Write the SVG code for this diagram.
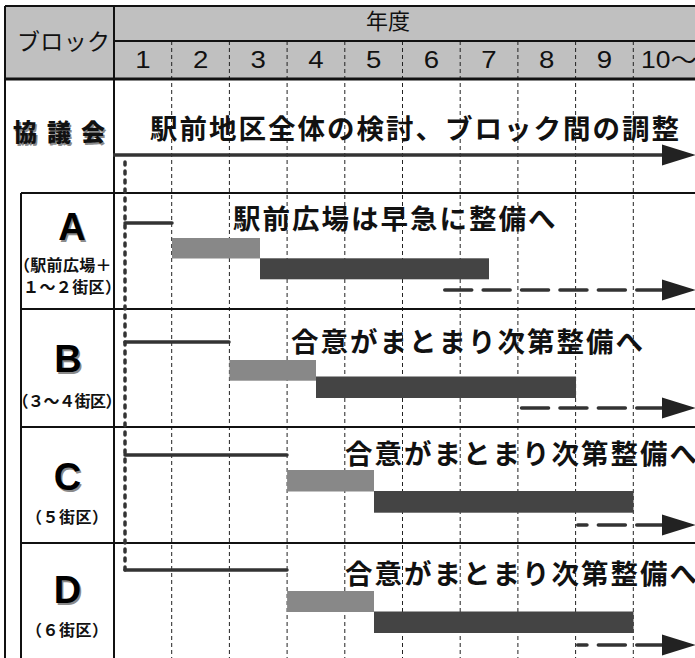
<svg xmlns="http://www.w3.org/2000/svg" width="695" height="658" viewBox="0 0 695 658">
<style>
.jp{font-family:"Noto Sans CJK JP","Noto Sans",sans-serif;}
.hdr{font-family:"Noto Sans CJK JP",sans-serif;font-size:23px;fill:#111;}
.num{font-family:"Liberation Sans","Noto Sans CJK JP",sans-serif;font-size:23px;fill:#111;}
.big{font-family:"Noto Sans CJK JP",sans-serif;font-weight:bold;font-size:27.5px;letter-spacing:2px;fill:#111;}
.sub{font-family:"Noto Sans CJK JP",sans-serif;font-weight:bold;font-size:16px;fill:#111;}
.let{font-family:"Liberation Sans",sans-serif;font-weight:bold;font-size:38px;text-anchor:middle;}
.shadow{fill:#8a8a8a;}
.frame{stroke:#111;stroke-width:2;fill:none;}
.grid{stroke:#222;stroke-width:1;stroke-dasharray:4 3;fill:none;}
.solid{stroke:#333;stroke-width:3.5;stroke-linecap:round;fill:none;}
.dash{stroke:#333;stroke-width:3.5;stroke-linecap:round;stroke-dasharray:27 11.4;fill:none;}
.head{fill:#222;}
.lite{fill:#888;}
.dark{fill:#444;}
</style>

<g id="header">
  <rect x="5" y="6" width="690" height="73" fill="#c0c0c0"/>
  <text class="hdr" x="17" y="50" textLength="93">ブロック</text>
  <text class="jp" x="366" y="29" font-size="22" fill="#111">年度</text>
  <g class="num" text-anchor="middle">
    <text transform="translate(143,68) scale(1.2,1)">1</text>
    <text transform="translate(200.6,68) scale(1.2,1)">2</text>
    <text transform="translate(258.2,68) scale(1.2,1)">3</text>
    <text transform="translate(316,68) scale(1.2,1)">4</text>
    <text transform="translate(373.6,68) scale(1.2,1)">5</text>
    <text transform="translate(431.3,68) scale(1.2,1)">6</text>
    <text transform="translate(489,68) scale(1.2,1)">7</text>
    <text transform="translate(546.7,68) scale(1.2,1)">8</text>
    <text transform="translate(604.5,68) scale(1.2,1)">9</text>
  </g>
  <text class="num" transform="translate(641,68) scale(1.15,1)">10～</text>
</g>

<g id="grid">
  <g class="grid">
    <path d="M171.7 41V658M229.4 41V658M287.1 41V658M344.8 41V658M402.5 41V658M460.2 41V658M517.9 41V658M575.6 41V658M633.3 41V658"/>
  </g>
</g>

<g id="frame" class="frame">
  <path d="M5 6H695"/>
  <path d="M5 6V658"/>
  <path d="M114 6V658"/>
  <path d="M114 41H695"/>
  <path d="M5 79H695" stroke-width="3"/>
  <path d="M21 193H695M21 309H695M21 427H695M21 543H695"/>
  <path d="M21 193V658"/>
</g>

<g id="kyogikai">
  <text class="jp shadow" x="14.5" y="142.5" font-size="24" font-weight="900" letter-spacing="10">協議会</text>
  <text class="jp" x="13" y="141" font-size="24" font-weight="900" letter-spacing="10" fill="#111">協議会</text>
  <text class="big" x="150" y="138.5">駅前地区全体の検討、ブロック間の調整</text>
</g>

<g id="blockA">
  <text class="let shadow" x="73.5" y="241.5">A</text>
  <text class="let" x="72" y="240">A</text>
  <text class="sub" x="14" y="271" letter-spacing="0.3">（駅前広場＋</text>
  <text class="sub" x="23" y="293" letter-spacing="0.4">１～２街区）</text>
  <text class="big" x="233" y="228.5">駅前広場は早急に整備へ</text>
  <rect class="lite" x="172" y="238" width="88" height="20.5"/>
  <rect class="dark" x="260" y="258.3" width="229" height="21"/>
</g>

<g id="blockB">
  <text class="let shadow" x="69.5" y="373.5">B</text>
  <text class="let" x="68" y="372">B</text>
  <text class="sub" x="12.5" y="407" letter-spacing="-0.5">（３～４街区）</text>
  <text class="big" x="291" y="351.5">合意がまとまり次第整備へ</text>
  <rect class="lite" x="229.4" y="360" width="86.6" height="20.7"/>
  <rect class="dark" x="316" y="376.5" width="260" height="21.5"/>
</g>

<g id="blockC">
  <text class="let shadow" x="69" y="491.5">C</text>
  <text class="let" x="67.5" y="490">C</text>
  <text class="sub" x="26" y="523" letter-spacing="0.5">（５街区）</text>
  <text class="big" x="345" y="463.5">合意がまとまり次第整備へ</text>
  <rect class="lite" x="287.1" y="470" width="86.9" height="21.5"/>
  <rect class="dark" x="374" y="491" width="259.5" height="21.7"/>
</g>

<g id="blockD">
  <text class="let shadow" x="69" y="604.5">D</text>
  <text class="let" x="67.5" y="603">D</text>
  <text class="sub" x="26" y="636" letter-spacing="0.5">（６街区）</text>
  <text class="big" x="345" y="583.5">合意がまとまり次第整備へ</text>
  <rect class="lite" x="287.1" y="591" width="86.9" height="21"/>
  <rect class="dark" x="374" y="611.5" width="259.5" height="21.5"/>
</g>

<g id="connectors">
  <path d="M113 155H664" stroke="#333" stroke-width="3.5" fill="none"/>
  <polygon class="head" points="662,144.5 696,155 662,165.5"/>
  <path class="solid" d="M125 162V570" stroke-width="4" stroke-dasharray="3 6"/>
  <path class="solid" d="M125 223H172"/>
  <path class="solid" d="M125 342H229"/>
  <path class="solid" d="M125 455H287"/>
  <path class="solid" d="M125 570H287"/>
  <path class="dash" d="M444.75 290H663"/>
  <polygon class="head" points="662,279.5 696,290 662,300.5"/>
  <path class="dash" d="M521.55 408H663"/>
  <polygon class="head" points="662,397.5 696,408 662,418.5"/>
  <path class="dash" d="M577.75 525H663" stroke-dashoffset="17.8"/>
  <polygon class="head" points="662,514.5 696,525 662,535.5"/>
  <path class="dash" d="M577.75 645H663" stroke-dashoffset="17.8"/>
  <polygon class="head" points="662,634.5 696,645 662,655.5"/>
</g>
</svg>
